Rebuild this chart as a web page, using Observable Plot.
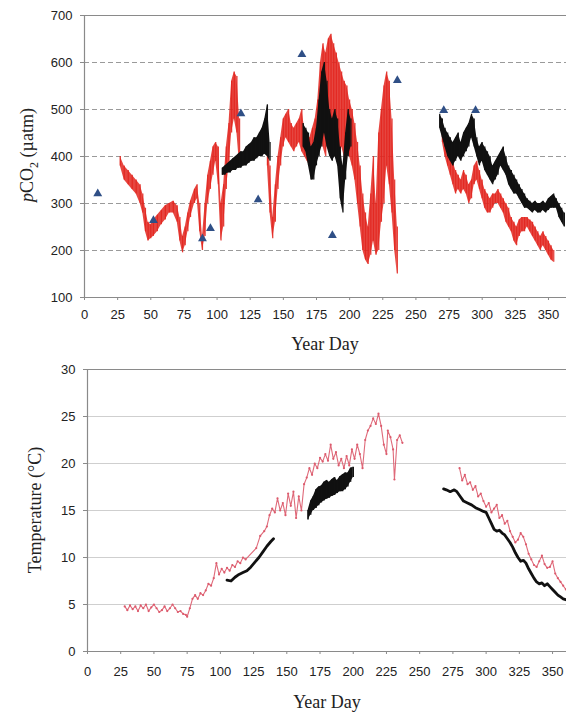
<!DOCTYPE html>
<html>
<head>
<meta charset="utf-8">
<script src="https://cdn.jsdelivr.net/npm/d3@7"></script>
<script src="https://cdn.jsdelivr.net/npm/@observablehq/plot@0.6"></script>
<style>
  html, body { margin: 0; padding: 0; background: #fff; }
  #chart svg { display: block; }
</style>
</head>
<body>
<div id="chart"></div>
<script>
// ---------- Data ----------
// Top panel: pCO2 (µatm). Dense series given as daily envelope (low / high).
const redCO2Day = [27,30,33,36,39,42,44,46,48,50,52,55,58,61,64,67,70,72,74,76,78,80,83,85,87,89,91,93,95,97,99,101,103,105,107,109,111,113,115,117,
  138,140,142,144,146,148,150,152,154,156,158,160,162,164,166,168,170,172,174,176,178,180,182,184,186,188,190,192,194,196,198,200,202,204,206,208,210,212,214,216,218,220,222,224,226,228,230,232,234,236,
  270,272,274,276,278,280,282,284,286,288,290,292,294,296,298,300,302,304,306,308,310,312,314,316,318,320,322,324,326,328,330,332,334,336,338,340,342,344,346,348,350,352,354];
const redCO2Lo = [380,350,340,330,320,300,280,240,220,225,230,240,255,265,280,280,260,220,195,210,240,270,300,310,240,200,230,300,330,360,390,340,220,250,330,380,450,480,450,380,
  380,280,225,260,330,380,420,440,430,420,410,420,430,410,400,390,380,400,420,430,450,420,400,450,420,400,420,400,420,400,420,400,380,350,300,250,200,180,170,190,220,190,200,260,300,380,340,280,200,150,
  430,400,380,360,340,320,330,320,330,320,300,310,340,350,330,310,290,280,280,290,300,300,290,280,260,250,240,220,210,230,240,240,250,240,230,220,210,200,210,200,190,180,175];
const redCO2Hi = [400,380,370,360,350,340,320,290,260,255,265,275,285,295,300,305,295,270,230,250,280,305,330,340,300,230,300,360,390,420,430,420,300,340,420,470,560,580,570,480,
  450,380,270,340,400,440,480,490,500,470,460,470,480,500,460,440,440,460,480,520,600,640,620,650,660,640,620,600,580,560,550,520,500,470,430,380,320,280,250,320,400,300,450,500,550,580,560,480,350,250,
  470,450,430,410,390,370,360,350,370,360,340,350,380,390,370,350,330,320,310,320,320,330,320,310,300,290,270,260,250,265,270,270,270,265,260,250,240,230,240,230,220,210,200];

const blackCO2Day = [104,106,108,110,112,114,116,118,120,122,124,126,128,130,132,134,136,138,140,
  165,167,169,171,173,175,177,179,181,183,185,187,189,191,193,195,197,199,201,
  268,270,272,274,276,278,280,282,284,286,288,290,292,294,296,298,300,302,304,306,308,310,312,314,316,318,320,322,324,326,328,330,332,334,336,338,340,342,344,346,348,350,352,354,356,358,360,362];
const blackCO2Lo = [360,360,365,365,370,370,375,375,380,380,385,390,390,395,400,400,405,400,390,
  420,410,380,350,350,380,400,420,450,420,400,390,400,380,310,280,350,400,420,
  460,440,420,400,390,380,390,400,390,400,410,420,440,420,400,380,390,370,360,350,340,350,360,380,370,360,340,330,320,320,310,300,290,290,285,280,285,280,280,285,280,285,290,290,290,270,260,250];
const blackCO2Hi = [375,380,385,390,395,400,405,410,410,420,425,430,440,440,450,460,480,510,430,
  470,460,450,420,430,460,520,580,600,560,500,480,500,480,420,380,450,500,480,
  490,480,460,450,440,430,440,450,430,450,460,470,490,480,440,420,430,420,410,400,380,390,400,410,420,400,380,370,360,350,340,330,320,310,305,300,305,300,300,305,300,310,315,320,310,300,290,280];

// Discrete samples (blue triangles)
const sampleDay = [10,52,89,95,118,131,164,187,236,271,295];
const sampleCO2 = [321,264,225,247,491,308,617,232,562,498,498];

// Bottom panel: temperature (°C)
const redTDay = [28,30,32,34,36,38,40,42,44,46,48,50,52,54,56,58,60,62,64,66,68,70,72,74,75,77,79,81,83,85,87,89,91,93,95,97,99,101,103,105,107,109,111,113,115,117,119,
  127,130,133,135,137,139,141,143,145,147,149,151,153,155,157,159,161,163,165,167,169,171,173,175,177,179,181,183,185,187,189,191,193,195,197,199,201,203,205,207,209,211,213,215,217,219,221,223,225,226,228,230,231,233,235,237];
const redT = [4.8,4.4,4.9,4.5,4.8,4.3,4.9,4.6,5.0,4.3,4.7,5.0,4.6,4.2,4.4,4.8,4.3,4.6,5.0,4.6,4.2,4.3,4.0,3.9,3.7,4.6,5.6,6.0,5.6,6.2,6.0,6.5,7.2,7.0,7.8,9.4,8.2,8.8,8.4,8.9,8.6,9.2,9.0,9.6,9.4,10.0,9.8,
  11.0,12.3,12.8,13.3,14.5,15.2,14.8,16.3,15.0,15.8,14.5,16.8,15.5,17.0,14.2,16.5,15.0,17.8,18.5,19.5,18.8,20.0,19.5,20.6,20.2,21.0,20.3,22.0,20.5,21.2,19.8,20.5,19.5,20.8,19.8,21.5,20.5,22.0,21.0,19.5,22.5,23.5,24.0,24.8,24.2,25.3,24.0,22.0,21.0,23.5,22.8,21.5,18.3,22.5,23.0,22.2];
const redT2Day = [280,282,284,286,288,290,292,294,296,298,300,302,304,306,308,310,312,314,316,318,320,322,324,326,328,330,332,334,336,338,340,342,344,346,348,350,352,354,356,358,360];
const redT2 = [19.5,18.2,18.8,17.8,18.0,17.2,17.6,16.5,16.8,16.0,15.4,15.8,14.8,15.2,15.6,14.2,14.5,13.6,13.9,12.8,12.2,11.6,11.9,12.6,12.2,11.4,10.4,9.8,9.2,9.0,9.6,10.2,9.3,8.9,9.0,9.6,8.3,7.8,7.4,7.0,6.6];

const blackT1Day = [105,108,111,114,117,120,123,126,129,132,135,138,140];
const blackT1 = [7.6,7.5,7.9,8.2,8.4,8.6,9.0,9.5,10.0,10.6,11.2,11.7,12.0];

const blackT2Day = [166,168,170,172,174,176,178,180,182,184,186,188,190,192,194,196,198,200];
const blackT2Lo = [14.0,14.5,15.0,15.2,15.5,15.8,16.0,16.2,16.3,16.5,16.6,16.8,17.0,17.0,17.2,17.5,18.0,18.5];
const blackT2Hi = [15.0,16.0,16.5,17.2,17.5,17.6,18.0,18.2,18.0,18.3,18.5,18.2,18.6,18.8,19.0,19.0,19.5,19.6];

const blackT3Day = [268,270,273,276,278,280,283,286,289,292,295,298,300,302,304,306,308,310,312,314,316,318,320,322,324,326,328,330,332,334,336,338,340,342,344,346,348,350,352,354,356,358,360];
const blackT3 = [17.3,17.2,17.0,17.2,17.0,16.6,16.0,15.8,15.6,15.3,15.1,14.9,14.8,14.2,13.6,13.0,12.8,12.9,12.6,12.4,12.0,11.6,11.1,10.5,10.0,9.6,9.7,9.4,8.8,8.3,7.8,7.4,7.2,7.3,7.0,7.2,6.9,6.6,6.3,6.0,5.8,5.6,5.5];

const xTicks = [0,25,50,75,100,125,150,175,200,225,250,275,300,325,350];
const co2Ticks = [100,200,300,400,500,600,700];
const tTicks = [0,5,10,15,20,25,30];

// ---------- Build tables ----------
// band rows; a new segment starts where the record has a gap of more than 6 days
const band = (days, lo, hi) => {
  let seg = 0;
  return days.map((d, i) => {
    if (i > 0 && d - days[i - 1] > 6) seg++;
    return {day: d, lo: lo[i], hi: hi[i], seg};
  });
};
const series = (days, vals, z) => days.map((d, i) => ({day: d, v: vals[i], z}));

const redCO2 = band(redCO2Day, redCO2Lo, redCO2Hi);
const blackCO2 = band(blackCO2Day, blackCO2Lo, blackCO2Hi);
const samples = sampleDay.map((d, i) => ({day: d, v: sampleCO2[i]}));
const redTemp = [...series(redTDay, redT, "a"), ...series(redT2Day, redT2, "b")];
const blackTempLines = [...series(blackT1Day, blackT1, "a"), ...series(blackT3Day, blackT3, "b")];
const blackTempBand = band(blackT2Day, blackT2Lo, blackT2Hi);

const RED = "#e2261f";
const PINK = "#dc5a6c";
const BLACK = "#111";
const BLUE = "#2f4f86";
const AXIS = "#8a8a8a";
const W = 566;
const SERIF = "Liberation Serif, Times New Roman, serif";

const tickFont = {fontFamily: "Liberation Sans, Arial, sans-serif", fontSize: 13};

// ---------- Top panel ----------
const topPlot = Plot.plot({
  width: W, height: 356,
  marginTop: 15, marginBottom: 59, marginLeft: 84, marginRight: 0,
  style: {fontFamily: "Liberation Sans, Arial, sans-serif", fontSize: "13px", color: "#222", background: "#fff"},
  x: {domain: [0, 363.6]},
  y: {domain: [100, 700]},
  marks: [
    Plot.ruleY([200,300,400,500,600], {stroke: "#9a9a9a", strokeDasharray: "5,3", strokeWidth: 1}),
    Plot.ruleY([700], {stroke: AXIS, strokeWidth: 1.2}),
    Plot.areaY(redCO2, {x: "day", y1: "lo", y2: "hi", z: "seg", fill: RED, fillOpacity: 0.85}),
    Plot.ruleX(redCO2, {x: "day", y1: "lo", y2: "hi", stroke: RED, strokeWidth: 1.2, strokeOpacity: 0.9}),
    Plot.areaY(blackCO2, {x: "day", y1: "lo", y2: "hi", z: "seg", fill: BLACK}),
    Plot.ruleX(blackCO2, {x: "day", y1: "lo", y2: "hi", stroke: BLACK, strokeWidth: 1.2}),
    Plot.dot(samples, {x: "day", y: "v", symbol: "triangle", r: 3.3, fill: BLUE, stroke: "none"}),
    Plot.axisY({ticks: co2Ticks, tickSize: 4, tickPadding: 8, label: null, stroke: AXIS, ...tickFont}),
    Plot.axisX({ticks: xTicks, tickSize: 3, tickPadding: 9, label: null, stroke: AXIS, ...tickFont}),
    Plot.ruleX([0], {stroke: AXIS, strokeWidth: 1.2}),
    Plot.ruleY([100], {stroke: AXIS, strokeWidth: 1.2})
  ]
});

// ---------- Bottom panel ----------
const bottomPlot = Plot.plot({
  width: W, height: 357,
  marginTop: 13, marginBottom: 62, marginLeft: 87, marginRight: 0,
  style: {fontFamily: "Liberation Sans, Arial, sans-serif", fontSize: "13px", color: "#222", background: "#fff"},
  x: {domain: [0, 360.5]},
  y: {domain: [0, 30]},
  marks: [
    Plot.ruleY([5,10,15,20,25], {stroke: "#cfcfcf", strokeWidth: 1.2}),
    Plot.ruleY([30], {stroke: AXIS, strokeWidth: 1.2}),
    Plot.line(redTemp, {x: "day", y: "v", z: "z", stroke: PINK, strokeWidth: 1.1, strokeOpacity: 0.9}),
    Plot.dot(redTemp, {x: "day", y: "v", r: 1.1, fill: PINK, stroke: "none"}),
    Plot.line(blackTempLines, {x: "day", y: "v", z: "z", stroke: BLACK, strokeWidth: 2.8}),
    Plot.areaY(blackTempBand, {x: "day", y1: "lo", y2: "hi", z: "seg", fill: BLACK}),
    Plot.ruleX(blackTempBand, {x: "day", y1: "lo", y2: "hi", stroke: BLACK, strokeWidth: 1.5}),
    Plot.axisY({ticks: tTicks, tickSize: 4, tickPadding: 8, label: null, stroke: AXIS, ...tickFont}),
    Plot.axisX({ticks: xTicks, tickSize: 3, tickPadding: 12, label: null, stroke: AXIS, ...tickFont}),
    Plot.ruleX([0], {stroke: AXIS, strokeWidth: 1.2}),
    Plot.ruleY([0], {stroke: AXIS, strokeWidth: 1.2})
  ]
});

// Axis titles (serif)
const title = (svg, x, y, rotate) => d3.select(svg).append("text")
  .attr("transform", `translate(${x},${y})` + (rotate ? " rotate(-90)" : ""))
  .attr("text-anchor", "middle")
  .style("font-family", SERIF).style("font-size", "18px").attr("fill", "#222");

title(topPlot, 325, 350, false).text("Year Day");
title(bottomPlot, 327, 352, false).text("Year Day");

const t1 = title(topPlot, 33, 155, true);
t1.append("tspan").style("font-style", "italic").text("p");
t1.append("tspan").text("CO");
t1.append("tspan").attr("dy", 5).style("font-size", "12px").text("2");
t1.append("tspan").attr("dy", -5).text(" (µatm)");

title(bottomPlot, 41, 154, true).text("Temperature (°C)");

const chart = document.getElementById("chart");
chart.appendChild(topPlot);
chart.appendChild(bottomPlot);
</script>
</body>
</html>
